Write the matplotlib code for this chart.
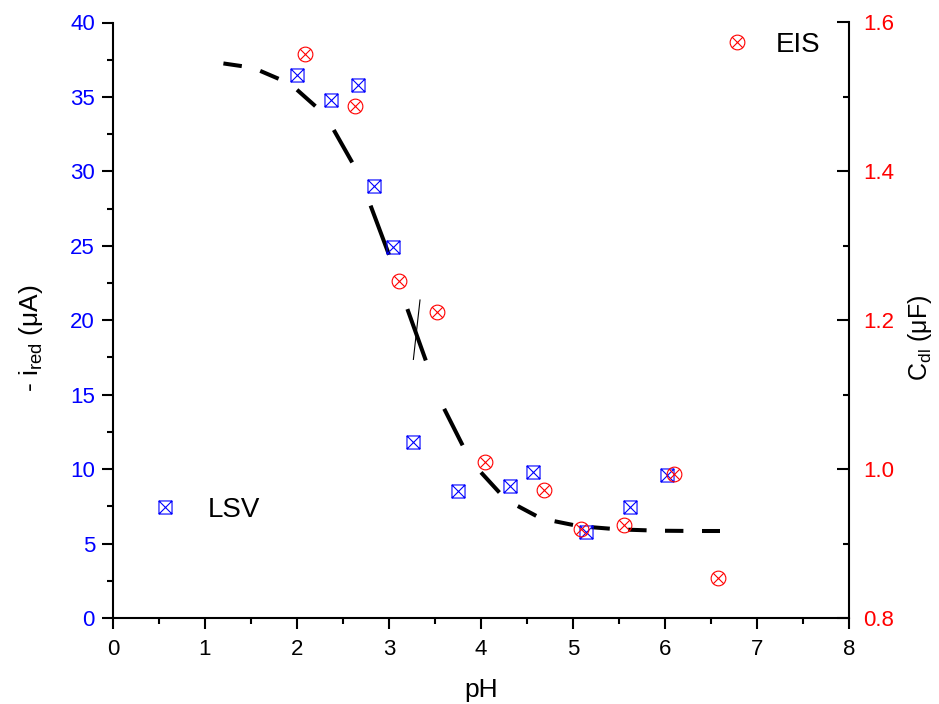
import numpy as np
import matplotlib
matplotlib.use("Agg")
import matplotlib.pyplot as plt
from matplotlib.path import Path
from matplotlib.collections import LineCollection

plt.rcParams['font.family'] = ['Liberation Sans', 'DejaVu Sans']
plt.rcParams['mathtext.fontset'] = 'custom'
plt.rcParams['mathtext.rm'] = 'Liberation Sans'

# ---- data ----
lsv_ph = [2.00, 2.37, 2.66, 2.84, 3.04, 3.26, 3.75, 4.31, 4.57, 5.14, 5.62, 6.02]
lsv_i = [36.5, 34.8, 35.8, 29.0, 24.9, 11.8, 8.55, 8.9, 9.8, 5.8, 7.47, 9.58]

eis_ph = [2.09, 2.63, 3.11, 3.52, 4.04, 4.68, 5.09, 5.55, 6.10, 6.58]
eis_c = [1.558, 1.488, 1.253, 1.211, 1.009, 0.972, 0.919, 0.925, 0.993, 0.854]

fit_ph = [1.2, 1.4, 1.6, 1.8, 2.0, 2.2, 2.4, 2.6, 2.8, 3.0, 3.2, 3.4, 3.6, 3.8,
          4.0, 4.2, 4.4, 4.6, 4.8, 5.0, 5.2, 5.4, 5.6, 5.8, 6.0, 6.2, 6.4, 6.6]
fit_i = [37.25, 37.07, 36.75, 36.22, 35.48, 34.38, 32.78, 30.6, 27.7, 24.4,
         20.75, 17.3, 14.05, 11.6, 9.78, 8.43, 7.52, 6.86, 6.5, 6.25, 6.1, 6.0,
         5.93, 5.89, 5.86, 5.85, 5.84, 5.84]

thin_ph = [3.337, 3.265]
thin_i = [21.36, 17.37]

xticks = [0, 1, 2, 3, 4, 5, 6, 7, 8]
yticks_left = [0, 5, 10, 15, 20, 25, 30, 35, 40]
yticks_right = [0.8, 1.0, 1.2, 1.4, 1.6]

# ---- markers ----
sq_verts = [(-1, -1), (1, -1), (1, 1), (-1, 1), (-1, -1),
            (-1, -1), (1, 1), (-1, 1), (1, -1)]
sq_codes = [Path.MOVETO, Path.LINETO, Path.LINETO, Path.LINETO, Path.CLOSEPOLY,
            Path.MOVETO, Path.LINETO, Path.MOVETO, Path.LINETO]
sq_marker = Path(sq_verts, sq_codes)

circ = Path.unit_circle()
d = 0.7071
diag = Path([(-d, -d), (d, d), (-d, d), (d, -d)],
            [Path.MOVETO, Path.LINETO, Path.MOVETO, Path.LINETO])
circ_marker = Path.make_compound_path(circ, diag)

BLUE = '#0000FF'
RED = '#FF0000'

fig = plt.figure(figsize=(9.39, 7.04), dpi=100)
ax1 = fig.add_axes([113/939, 1 - 618/704, (849-113)/939, (618-22.5)/704])
ax2 = ax1.twinx()

# fitted curve: alternate segments
segs = [[(fit_ph[i], fit_i[i]), (fit_ph[i+1], fit_i[i+1])]
        for i in range(0, len(fit_ph) - 1, 2)]
lc = LineCollection(segs, colors='black', linewidths=2.9, capstyle='butt', zorder=2)
ax1.add_collection(lc)
ax1.plot(thin_ph, thin_i, color='black', lw=0.8, zorder=2)

l1, = ax1.plot(lsv_ph, lsv_i, linestyle='none', marker=sq_marker, markersize=9.4,
               markerfacecolor='none', markeredgecolor=BLUE, markeredgewidth=0.8,
               label='LSV', zorder=3)
l2, = ax2.plot(eis_ph, eis_c, linestyle='none', marker=circ_marker, markersize=10.6,
               markerfacecolor='none', markeredgecolor=RED, markeredgewidth=0.8,
               label='EIS', zorder=3)

ax1.set_xlim(0, 8)
ax1.set_ylim(0, 40)
ax2.set_ylim(0.8, 1.6)

ax1.set_xticks(xticks)
ax1.set_xticks(np.arange(0.5, 8, 1.0), minor=True)
ax1.set_yticks(yticks_left)
ax1.set_yticks(np.arange(2.5, 40, 5.0), minor=True)
ax2.set_yticks(yticks_right)
ax2.set_yticks([0.9, 1.1, 1.3, 1.5], minor=True)
ax2.set_yticklabels(['0.8', '1.0', '1.2', '1.4', '1.6'])

for s in ['top', 'right']:
    ax1.spines[s].set_visible(False)
for s in ['top', 'left', 'bottom']:
    ax2.spines[s].set_visible(False)
for ax in (ax1, ax2):
    for s in ax.spines.values():
        s.set_linewidth(1.5)

ax1.tick_params(axis='both', which='major', direction='out', length=8, width=1.5,
                labelsize=16, pad=5)
ax1.tick_params(axis='both', which='minor', direction='out', length=4.5, width=1.5)
ax1.tick_params(axis='y', labelcolor=BLUE)
ax1.tick_params(axis='x', pad=7)
ax2.tick_params(axis='y', which='major', direction='in', length=8.5, width=1.5,
                labelsize=16, pad=10, labelcolor=RED)
ax2.tick_params(axis='y', which='minor', direction='in', length=4.5, width=1.5)

ax1.set_xlabel('pH', fontsize=19, labelpad=13)
ax1.set_ylabel(r'- i$_{\mathregular{red}}$ ($\mathregular{\mu}$A)', fontsize=19)
ax1.yaxis.set_label_coords(-0.093, 0.47)
ax2.set_ylabel(r'C$_{\mathregular{dl}}$ ($\mathregular{\mu}$F)', fontsize=18,
               rotation=90, va='bottom')
ax2.yaxis.set_label_coords(1.115, 0.47)

leg1 = ax1.legend(handles=[l1], loc='center left', bbox_to_anchor=(0.052, 0.181),
                  frameon=False, fontsize=20, handlelength=1.0, handletextpad=1.02,
                  borderpad=0, borderaxespad=0)
leg2 = ax2.legend(handles=[l2], loc='center left', bbox_to_anchor=(0.829, 0.962),
                  frameon=False, fontsize=20, handlelength=1.0, handletextpad=0.9,
                  borderpad=0, borderaxespad=0)

fig.savefig('out.png', dpi=100)
